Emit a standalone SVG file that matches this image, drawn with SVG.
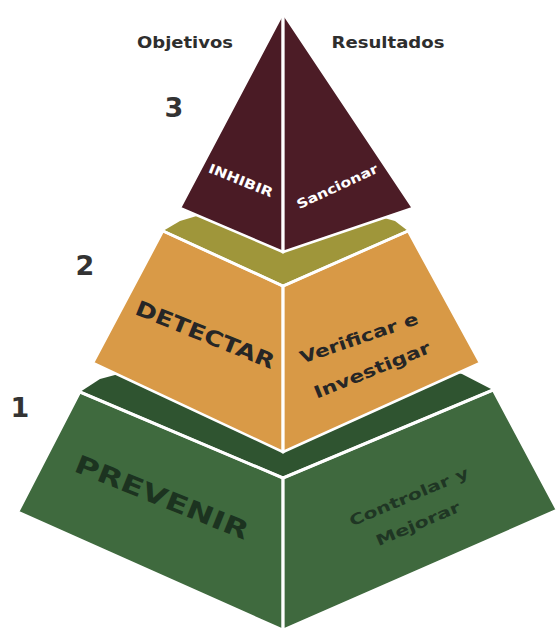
<svg xmlns="http://www.w3.org/2000/svg" width="559" height="632" viewBox="0 0 559 632">
<style>
.face{stroke:#ffffff;stroke-width:2.5;stroke-linejoin:round}
.edge{stroke:#ffffff;stroke-width:3;fill:none;stroke-linecap:round}
.t{font-family:"DejaVu Sans","Open Sans","Liberation Sans",sans-serif;font-weight:700;text-anchor:middle}
.head{font-size:16px;fill:#2e2e2e}
.num{font-size:27px;fill:#333333}
</style>
<rect width="559" height="632" fill="#ffffff"/>
<g id="labels">
<text class="t head" x="185" y="48" textLength="96" lengthAdjust="spacingAndGlyphs">Objetivos</text>
<text class="t head" x="388" y="48" textLength="113" lengthAdjust="spacingAndGlyphs">Resultados</text>
<text class="t num" x="174" y="117">3</text>
<text class="t num" x="85" y="275">2</text>
<text class="t num" x="20" y="417">1</text>
</g>
<g id="tier1">
<polygon points="80,392 100,379 283,330 462,374 493,390 283,478" fill="#2f5430"/>
<polygon class="face" points="80,392 283,478 283,630 18,512" fill="#3f6a3e"/>
<polygon class="face" points="283,478 493,390 557,510 283,630" fill="#3f693e"/>
<polyline class="edge" points="80,392 283,478 493,390"/>
<line class="edge" x1="283" y1="478" x2="283" y2="630"/>
<text class="t" x="162" y="506" font-size="25" fill="#1c3320" textLength="185" lengthAdjust="spacingAndGlyphs" transform="rotate(22 162 497)">PREVENIR</text>
<text class="t" x="409" y="502" font-size="15" fill="#1f3624" textLength="128" lengthAdjust="spacingAndGlyphs" transform="rotate(-23 409 497)">Controlar y</text>
<text class="t" x="418" y="529" font-size="15" fill="#1f3624" textLength="90" lengthAdjust="spacingAndGlyphs" transform="rotate(-23 418 524)">Mejorar</text>
</g>
<g id="tier2">
<polygon points="163,231 180,221 283,190 395,221 408,231 283,286" fill="#9f963a"/>
<polygon class="face" points="163,231 283,286 283,452 93,363" fill="#d99a47"/>
<polygon class="face" points="283,286 408,231 480,363 283,452" fill="#d89946"/>
<polyline class="edge" points="163,231 283,286 408,231"/>
<line class="edge" x1="283" y1="286" x2="283" y2="452"/>
<text class="t" x="205" y="342" font-size="21" fill="#262626" textLength="148" lengthAdjust="spacingAndGlyphs" transform="rotate(22 205 335)">DETECTAR</text>
<text class="t" x="359" y="344" font-size="17" fill="#262626" textLength="124" lengthAdjust="spacingAndGlyphs" transform="rotate(-19 359 338)">Verificar e</text>
<text class="t" x="372" y="376" font-size="17" fill="#262626" textLength="124" lengthAdjust="spacingAndGlyphs" transform="rotate(-22 372 370)">Investigar</text>
</g>
<g id="tier3">
<polygon class="face" points="283,13 180,208 283,252" fill="#4a1b25"/>
<polygon class="face" points="283,13 283,252 413,208" fill="#4c1c26"/>
<line class="edge" x1="283" y1="13" x2="283" y2="252"/>
<text class="t" x="241" y="185" font-size="13" fill="#ffffff" textLength="68" lengthAdjust="spacingAndGlyphs" transform="rotate(22 241 180)">INHIBIR</text>
<text class="t" x="337" y="191" font-size="13" fill="#ffffff" font-weight="600" textLength="88" lengthAdjust="spacingAndGlyphs" transform="rotate(-25 337 186)">Sancionar</text>
</g>
</svg>
